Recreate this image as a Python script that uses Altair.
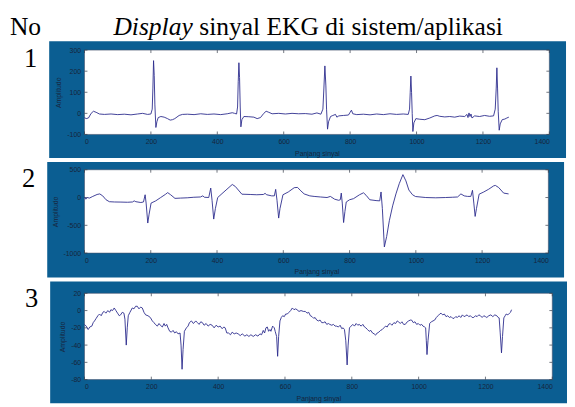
import altair as alt
import pandas as pd

# ---------------- data ----------------
X_TICKS = [0, 200, 400, 600, 800, 1000, 1200, 1400]
P1_Y_TICKS = [-100, 0, 100, 200, 300]
P2_Y_TICKS = [-1000, -500, 0, 500]
P3_Y_TICKS = [-80, -60, -40, -20, 0, 20]

P1_X = [0, 5, 12, 20, 27, 35, 45, 60, 80, 100, 120, 140, 160, 175, 190, 200, 204, 206, 208, 210,
        212, 215, 218, 222, 230, 240, 250, 258, 265, 272, 285, 295, 310, 330, 350, 370, 390, 410,
        430, 445, 452, 458, 461, 463, 465, 467, 469, 471, 474, 480, 495, 510, 520, 530, 540, 547,
        555, 565, 585, 605, 625, 645, 665, 685, 700, 712, 718, 721, 724, 727, 729, 732, 735, 741,
        748, 756, 760, 766, 780, 795, 800, 804, 808, 820, 840, 860, 880, 900, 920, 940, 960, 975,
        979, 981, 983, 985, 987, 989, 992, 998, 1010, 1025, 1040, 1055, 1062, 1070, 1085, 1100,
        1115, 1130, 1145, 1152, 1155, 1158, 1161, 1164, 1167, 1175, 1190, 1205, 1220, 1232, 1237,
        1240, 1242, 1244, 1246, 1249, 1252, 1258, 1266, 1272, 1278]
P1_Y = [-20, -25, -22, 0, 10, 5, -3, -5, -3, -6, -4, -7, -3, 0, -5, -3, 20, 120, 250, 180,
        40, -67, -40, -20, -15, -18, -25, -32, -30, -25, -10, -5, -4, -6, -2, -5, -3, -6,
        -2, 3, 0, -3, 30, 150, 240, 170, 30, -64, -30, -15, -16, -18, -25, -20, 0, 10,
        5, -2, 0, -3, 0, -2, -1, -4, 2, -4, 20, 120, 225, 130, 20, -75, -40, -15,
        -10, -5, -18, -12, -10, -8, 5, 15, -2, -6, -4, -7, -3, -6, -2, -5, -3, -5,
        20, 100, 177, 100, 0, -86, -45, -25, -28, -30, -22, -12, -10, -14, -17, -15,
        -18, -13, -15, -5, -20, 2, -15, -3, -22, -12, -15, -10, -14, -12, 20,
        120, 216, 120, 10, -80, -50, -30, -27, -22, -18]

P2_X = [0, 4, 8, 15, 25, 38, 46, 55, 65, 75, 90, 110, 130, 145, 150, 155, 170, 178, 183, 186,
        191, 195, 201, 215, 230, 245, 251, 260, 273, 290, 310, 330, 350, 357, 362, 375, 381, 385,
        390, 395, 402, 415, 430, 446, 455, 475, 500, 520, 540, 545, 550, 565, 573, 577, 581, 586,
        590, 599, 615, 633, 643, 653, 663, 680, 693, 712, 732, 742, 755, 767, 772, 775, 778, 782,
        786, 790, 800, 812, 830, 842, 850, 861, 880, 891, 895, 899, 905, 912, 920, 930, 940, 950,
        961, 970, 979, 990, 999, 1030, 1060, 1090, 1110, 1126, 1136, 1146, 1156, 1166, 1171, 1175,
        1179, 1183, 1191, 1205, 1220, 1235, 1240, 1250, 1265, 1280]
P2_Y = [10, -30, 0, -10, 20, 55, 65, 30, -40, -75, -80, -82, -85, -80, -60, -75, -90, -80, 50, -100,
        -459, -300, -100, -60, 0, 60, 88, 50, -15, -10, -5, 5, 10, 30, 5, 0, 170, -50,
        -388, -200, 0, 70, 150, 235, 200, 60, 55, 50, 55, 75, 50, 30, 30, 147, -50, -370,
        -200, 50, 100, 177, 182, 120, 65, 30, 20, 10, 0, 20, -30, -50, -40, 80, -100, -450,
        -250, -80, -40, -20, 50, 85, 40, -40, -55, -60, 100, -200, -889, -700, -418, -150, 65, 250,
        412, 300, 135, 50, 18, 0, -5, 0, 5, 10, 65, 30, 20, 20, 130, -100,
        -340, -200, 60, 100, 150, 210, 218, 180, 80, 65]

P3_X = [0, 5, 11, 16, 22, 26, 30, 35, 40, 45, 50, 55, 59, 64, 70, 75, 79, 84, 89, 94, 99, 104,
        108, 113, 118, 121, 125, 128, 131, 136, 143, 148, 153, 158, 163, 168, 173, 178, 183, 190,
        197, 203, 208, 212, 218, 223, 227, 233, 238, 242, 246, 250, 255, 260, 265, 270, 275, 280,
        286, 289, 292, 295, 299, 305, 310, 314, 320, 326, 333, 338, 343, 348, 353, 358, 364, 370,
        376, 382, 388, 394, 400, 406, 412, 417, 421, 426, 431, 437, 442, 448, 454, 460, 466, 472,
        480, 486, 492, 498, 505, 512, 519, 525, 530, 535, 539, 543, 547, 551, 555, 558, 563, 568,
        571, 575, 578, 581, 585, 589, 593, 598, 602, 607, 612, 617, 622, 627, 632, 636, 642, 648,
        655, 661, 666, 671, 676, 681, 686, 690, 695, 700, 705, 710, 715, 720, 725, 730, 734, 740,
        745, 750, 754, 760, 765, 770, 774, 778, 782, 786, 789, 793, 798, 803, 808, 813, 818, 822,
        828, 833, 838, 842, 847, 852, 857, 862, 867, 871, 876, 881, 886, 891, 896, 901, 906, 910,
        915, 920, 926, 931, 936, 940, 945, 950, 955, 960, 966, 970, 975, 979, 984, 989, 994, 999,
        1004, 1009, 1013, 1018, 1021, 1023, 1025, 1028, 1033, 1038, 1043, 1048, 1053, 1058, 1063,
        1067, 1072, 1077, 1082, 1087, 1092, 1097, 1102, 1106, 1111, 1116, 1121, 1126, 1131, 1136,
        1141, 1145, 1150, 1155, 1160, 1165, 1170, 1175, 1180, 1185, 1190, 1195, 1200, 1204, 1210,
        1216, 1222, 1228, 1234, 1238, 1241, 1244, 1248, 1251, 1255, 1259, 1262, 1267, 1272, 1275,
        1278]
P3_Y = [-16, -18, -22, -19, -18, -14, -12, -9, -6, -4, -6, -2, -1, -3, 0, -2, 1, 0, 3, 0, -3, -6,
        -5, -2, -3, -10, -40, -20, -6, -2, 3, 2, 5, 5, 2, 4, 3, -2, -5, -6,
        -8, -12, -14, -16, -18, -15, -17, -19, -15, -18, -16, -20, -24, -25, -23, -26, -24.5, -27,
        -26, -40, -68, -45, -24, -20, -18, -14, -12, -15, -12, -14, -16, -13, -14, -17, -15, -18,
        -16, -17, -20, -17, -19, -18, -21, -19, -20, -26, -26, -28, -25, -27, -26, -27, -29, -27,
        -29.6, -28, -30, -28, -30, -28, -29.6, -27, -28, -23, -26, -20, -19, -24, -22, -24, -18, -20,
        -24.5, -30, -53, -30, -12, -8, -6, -7, -4, -4, -2, 0, 3, 1, 2, 1, -1, 0,
        -1, -1, -3, -2, -6, -7, -9, -8, -11, -12, -11, -14, -14, -13, -16, -15, -16, -17,
        -16, -18, -18, -19, -17, -21, -20, -22, -35, -63, -40, -20, -18, -16, -18, -15, -17, -16,
        -18, -16, -19, -20, -22, -24, -23, -26, -27, -28.5, -26, -25, -23, -22, -20, -18, -19, -16,
        -15, -17, -14, -15, -12, -13, -15, -13, -16, -16, -13, -12, -11, -11, -14, -13, -16, -15,
        -17, -16, -18, -19, -20, -35, -51, -35, -15, -13, -12, -11, -8, -6, -4,
        -3, -5, -4, -7, -6, -8, -7, -9, -9, -7, -8, -6, -8, -5, -7,
        -6, -5, -7, -6, -8, -8, -6, -7, -5, -6, -8, -6, -7, -8, -6,
        -5, -7, -5, -6, -8, -8.5, -25, -49, -30, -8.5, -6, -4, -5, -3, -2,
        1]

ROW_NUMBERS = ["1", "2", "3"]
HEAD_NO = "No"
HEAD_ITALIC = "Display"
HEAD_REST = "sinyal EKG di sistem/aplikasi"
X_TITLE = "Panjang sinyal"
Y_TITLE = "Amplitudo"

# ---------------- style / layout ----------------
FRAME = "#0b5e92"
INK = "#17253b"
LINE = "#2a2a8c"
SERIF = "Liberation Serif, Times New Roman, serif"
SANS = "Liberation Sans, Arial, sans-serif"
BIG = 27
HEAD_SIZE = 26
HEAD_BASE = -15.5        # header baseline, relative to panel-1 plot top
HEAD_ITALIC_X = 29.5     # left of "Display", relative to panel-1 plot left
HEAD_REST_X = 117        # left of the upright part


def panel(xs, ys, yticks, number, w, h, geo, header=False):
    left, right, top, bottom, ax, nx, ny = geo
    xscale = alt.Scale(domain=[X_TICKS[0], X_TICKS[-1]], nice=False, zero=False)
    yscale = alt.Scale(domain=[yticks[0], yticks[-1]], nice=False, zero=False)
    xaxis = alt.Axis(title=X_TITLE, values=X_TICKS, zindex=1, labelPadding=3.5,
                     titlePadding=4.5, labelExpr="'' + datum.value")
    yaxis = alt.Axis(title=Y_TITLE, values=yticks, zindex=1, labelPadding=4,
                     titlePadding=5, labelExpr="'' + datum.value")
    one = pd.DataFrame({"k": [0]})

    anchor_top = -39 if header else top
    anchor = alt.Chart(one).mark_rule(opacity=0, strokeWidth=0.1, color="white").encode(
        x=alt.value(ax), y=alt.value(anchor_top), y2=alt.value(anchor_top + 1))
    frame = alt.Chart(one).mark_rect(color=FRAME).encode(
        x=alt.value(left), x2=alt.value(w + right), y=alt.value(top), y2=alt.value(h + bottom))
    box = pd.DataFrame({"x0": [X_TICKS[0]], "x1": [X_TICKS[-1]],
                        "y0": [yticks[0]], "y1": [yticks[-1]]})
    plot_bg = alt.Chart(box).mark_rect(fill="white", stroke="#44506a", strokeWidth=0.6).encode(
        x=alt.X("x0:Q", scale=xscale, axis=xaxis), x2="x1:Q",
        y=alt.Y("y0:Q", scale=yscale, axis=yaxis), y2="y1:Q")
    xt = pd.DataFrame({"t": X_TICKS})
    yt = pd.DataFrame({"t": yticks})
    tick_style = dict(color="#333a48", strokeWidth=0.7)
    xb = alt.Chart(xt).mark_rule(**tick_style).encode(
        x=alt.X("t:Q", scale=xscale, axis=xaxis), y=alt.value(h), y2=alt.value(h - 3))
    xtp = alt.Chart(xt).mark_rule(**tick_style).encode(
        x=alt.X("t:Q", scale=xscale, axis=xaxis), y=alt.value(0), y2=alt.value(3))
    yl = alt.Chart(yt).mark_rule(**tick_style).encode(
        y=alt.Y("t:Q", scale=yscale, axis=yaxis), x=alt.value(0), x2=alt.value(3))
    yr = alt.Chart(yt).mark_rule(**tick_style).encode(
        y=alt.Y("t:Q", scale=yscale, axis=yaxis), x=alt.value(w - 3), x2=alt.value(w))
    line = alt.Chart(pd.DataFrame({"x": xs, "y": ys})).mark_line(
        color=LINE, strokeWidth=0.9).encode(
        x=alt.X("x:Q", scale=xscale, axis=xaxis),
        y=alt.Y("y:Q", scale=yscale, axis=yaxis))
    num = alt.Chart(one).mark_text(text=number, font=SERIF, fontSize=BIG, align="center",
                                   baseline="alphabetic", color="black").encode(
        x=alt.value(nx), y=alt.value(ny))
    layers = [anchor, frame, plot_bg, xb, xtp, yl, yr, line, num]
    if header:
        layers.append(alt.Chart(one).mark_text(
            text=HEAD_NO, font=SERIF, fontSize=HEAD_SIZE, align="left",
            baseline="alphabetic", color="black").encode(
            x=alt.value(ax), y=alt.value(HEAD_BASE)))
        layers.append(alt.Chart(one).mark_text(
            text=HEAD_ITALIC, font=SERIF, fontSize=HEAD_SIZE, align="left",
            fontStyle="italic", baseline="alphabetic", color="black").encode(
            x=alt.value(HEAD_ITALIC_X), y=alt.value(HEAD_BASE)))
        layers.append(alt.Chart(one).mark_text(
            text=HEAD_REST, font=SERIF, fontSize=HEAD_SIZE, align="left",
            baseline="alphabetic", color="black").encode(
            x=alt.value(HEAD_REST_X), y=alt.value(HEAD_BASE)))
    return alt.layer(*layers).properties(width=w, height=h)


# geo: left, right, top, bottom, anchor_x, number_x, number_y (relative to plot area)
p1 = panel(P1_X, P1_Y, P1_Y_TICKS, ROW_NUMBERS[0], 474, 86, (-36, 17, -9, 24, -76, -55, 17), header=True)
p2 = panel(P2_X, P2_Y, P2_Y_TICKS, ROW_NUMBERS[1], 473, 85, (-38, 16, -8, 25, -78, -57, 18))
p3 = panel(P3_X, P3_Y, P3_Y_TICKS, ROW_NUMBERS[2], 477, 88, (-35, 15, -12, 24, -75, -54, 14))

chart = alt.vconcat(p1, p2, p3, spacing=4).properties(
    padding=0, background="white"
).configure_view(stroke=None).configure_axis(
    grid=False, domain=False, ticks=False, tickSize=0,
    labelFont=SANS, labelFontSize=7, labelColor=INK,
    titleFont=SANS, titleFontSize=7, titleFontWeight="normal", titleColor=INK,
)

chart.save("out.html", embed_options={"renderer": "svg", "actions": False})
